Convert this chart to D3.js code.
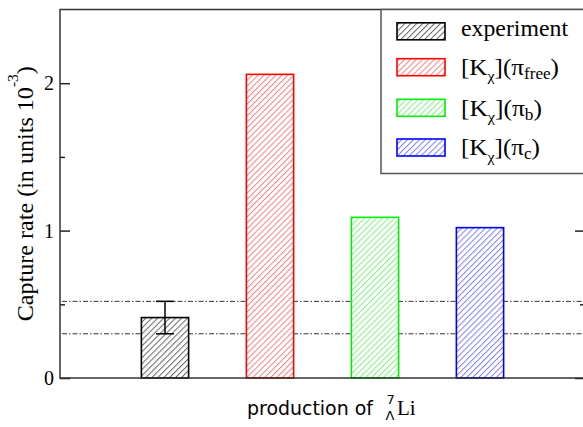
<!DOCTYPE html>
<html><head><meta charset="utf-8">
<script src="https://cdn.jsdelivr.net/npm/d3@7"></script>
<style>body{margin:0;background:#fff}svg{display:block}
.serif{font-family:"Liberation Serif","Times New Roman",serif}
.sans{font-family:"DejaVu Sans",sans-serif}</style>
</head><body>
<script>
// ---- data ----
const categories = ["experiment", "[Kχ](πfree)", "[Kχ](πb)", "[Kχ](πc)"];
const values = [0.41, 2.06, 1.09, 1.02];
const colors = ["#000000", "#ff0000", "#00ee00", "#0000ff"];
const errLow = [0.30];
const errHigh = [0.52];
const refLines = [0.30, 0.52];
const majorTicks = [0, 1, 2];
const minorTicks = [0.5, 1.5];
const legendSub = ["", "free", "b", "c"];

(function () {
const W = 583, H = 427;
const pL = 60, pR = 585, pT = 9.5, pB = 378;
const legendTextW = [107, 98, 81, 79];

const svg = d3.select("body").append("svg").attr("width", W).attr("height", H);
const defs = svg.append("defs");

const x = d3.scaleLinear().domain([0, 5]).range([pL, pR]);
const y = d3.scaleLinear().domain([0, 2.5]).range([pB, pT]);
const barW = (x(1) - x(0)) * 0.45;

colors.forEach((c, i) => {
  const p = defs.append("pattern").attr("id", "h" + i)
    .attr("patternUnits", "userSpaceOnUse").attr("width", 4.2).attr("height", 4.2)
    .attr("patternTransform", "rotate(45)");
  p.append("line").attr("x1", 0.5).attr("y1", 0).attr("x2", 0.5).attr("y2", 4.2)
    .attr("stroke", c).attr("stroke-width", 1).attr("stroke-opacity", i === 0 ? 0.6 : 0.5);
});

// reference dash-dot lines
svg.selectAll(".ref").data(refLines).enter().append("line")
  .attr("x1", pL + 2).attr("x2", pR).attr("y1", d => y(d)).attr("y2", d => y(d))
  .attr("stroke", "#333").attr("stroke-width", 1).attr("stroke-dasharray", "5,2,1.5,2");

// bars
const g = svg.append("g");
values.forEach((v, i) => {
  g.append("rect").attr("x", x(i + 1) - barW / 2).attr("y", y(v))
    .attr("width", barW).attr("height", y(0) - y(v))
    .attr("fill", "#fff");
  g.append("rect").attr("x", x(i + 1) - barW / 2).attr("y", y(v))
    .attr("width", barW).attr("height", y(0) - y(v))
    .attr("fill", `url(#h${i})`).attr("stroke", colors[i]).attr("stroke-width", 1.6);
});

// error bar
errLow.forEach((lo, i) => {
  const cx = x(i + 1), hi = errHigh[i];
  svg.append("line").attr("x1", cx).attr("x2", cx).attr("y1", y(lo)).attr("y2", y(hi)).attr("stroke", "#000").attr("stroke-width", 1.5);
  [lo, hi].forEach(v => svg.append("line").attr("x1", cx - 9).attr("x2", cx + 9).attr("y1", y(v)).attr("y2", y(v)).attr("stroke", "#000").attr("stroke-width", 1.5));
});

// axes
const axL = svg.append("g").attr("transform", `translate(${pL},0)`)
  .call(d3.axisLeft(y).tickValues(majorTicks).tickSize(-10).tickPadding(6).tickFormat(d3.format("d")));
svg.append("g").attr("transform", `translate(${pL},0)`)
  .call(d3.axisLeft(y).tickValues(minorTicks).tickSize(-5).tickFormat(""));
svg.append("g").attr("transform", `translate(${pR},0)`)
  .call(d3.axisRight(y).tickValues(majorTicks).tickSize(-10).tickFormat(""));
svg.append("g").attr("transform", `translate(${pR},0)`)
  .call(d3.axisRight(y).tickValues(minorTicks).tickSize(-5).tickFormat(""));
svg.selectAll(".domain").remove();
svg.selectAll(".tick line").attr("stroke", "#222").attr("stroke-width", 1.5);
axL.attr("font-family", null).attr("font-size", null);
axL.selectAll("text").attr("class", "serif").style("font-size", "20px").attr("fill", "#000");

// frame
svg.append("rect").attr("x", pL).attr("y", pT).attr("width", pR - pL).attr("height", pB - pT)
  .attr("fill", "none").attr("stroke", "#333").attr("stroke-width", 1.5);

// y label
const yl = svg.append("text").attr("class", "serif").attr("transform", `translate(33,${(pT + pB) / 2}) rotate(-90)`)
  .attr("text-anchor", "middle").style("font-size", "23.5px")
  .attr("textLength", 255).attr("lengthAdjust", "spacingAndGlyphs");
yl.append("tspan").text("Capture rate (in units 10");
yl.append("tspan").attr("dy", -15).style("font-size", "15px").text("-3");
yl.append("tspan").attr("dy", 15).text(")");

// x label
svg.append("text").attr("class", "sans").attr("x", 247).attr("y", 415).style("font-size", "19px")
  .attr("textLength", 126).attr("lengthAdjust", "spacingAndGlyphs").text("production of");
svg.append("text").attr("class", "sans").attr("x", 386.5).attr("y", 404).style("font-size", "13px").text("7");
svg.append("text").attr("class", "sans").attr("x", 385.5).attr("y", 420).style("font-size", "13px").text("Λ");
svg.append("text").attr("class", "serif").attr("x", 397).attr("y", 415).style("font-size", "21px").text("Li");

// legend
const lg = svg.append("g");
lg.append("rect").attr("x", 381).attr("y", pT).attr("width", 220).attr("height", 173.5 - pT)
  .attr("fill", "#fff").attr("stroke", "#555").attr("stroke-width", 1.5);
const rowY = [31.3, 67.2, 107.8, 147.5];
categories.forEach((c, i) => {
  const cy = rowY[i];
  lg.append("rect").attr("x", 397).attr("y", cy - 8.5).attr("width", 48).attr("height", 17).attr("fill", "#fff");
  lg.append("rect").attr("x", 397).attr("y", cy - 8.5).attr("width", 48).attr("height", 17)
    .attr("fill", `url(#h${i})`).attr("stroke", colors[i]).attr("stroke-width", 1.6);
  const t = lg.append("text").attr("class", "serif").attr("x", 461).attr("y", cy + (i === 0 ? 4.8 : 7.7))
    .style("font-size", "23.5px").attr("fill", "#000")
    .attr("textLength", legendTextW[i]).attr("lengthAdjust", "spacingAndGlyphs");
  if (i === 0) { t.text(c); return; }
  t.append("tspan").text("[K");
  t.append("tspan").attr("dy", 6.5).style("font-size", "15px").text("χ");
  t.append("tspan").attr("dy", -6.5).text("](π");
  t.append("tspan").attr("dy", 4).style("font-size", "16px").text(legendSub[i]);
  t.append("tspan").attr("dy", -4).text(")");
});
})();
</script>
</body></html>
